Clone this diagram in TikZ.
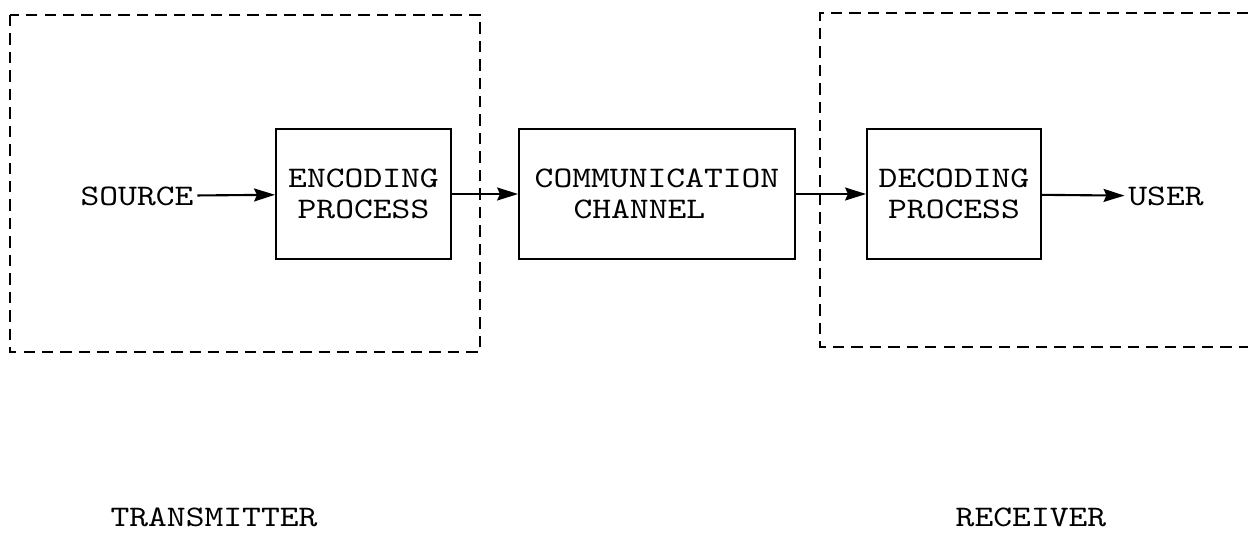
\documentclass[tikz,border=0pt]{standalone}
\usepackage{fontspec}
\usepackage{tikz}
\usetikzlibrary{arrows.meta}

\newfontfamily\typewriter{lmmono10-regular.otf}[FakeStretch=1.2]
\newcommand{\typefont}{\typewriter\fontsize{17}{18}\selectfont}

\tikzset{
  blockbox/.style={draw, line width=1.1pt, minimum height=2.6cm, inner sep=0pt, font=\typefont},
  plainlabel/.style={font=\typefont, inner sep=2pt},
  flowarrow/.style={line width=1.2pt, -{Stealth[length=0.42cm, width=0.26cm, inset=0.06cm]}},
  groupline/.style={line width=1.3pt, dash pattern=on 6.5pt off 4pt}
}

\begin{document}
\begin{tikzpicture}[x=0.02cm, y=-0.02cm]
            \useasboundingbox (0,0) rectangle (1248,548);
            % transmitter and receiver
            \draw[groupline] (10,15) rectangle (480,352);
            \draw[groupline] (1248,13) -- (820,13) -- (820,347) -- (1248,347);
            % blocks
            \node[plainlabel] (src) at (137,196) {SOURCE};
            \node[blockbox, align=center, minimum width=3.5cm] (enc) at (363.5,194) {ENCODING\\PROCESS};
            \node[blockbox, align=left, minimum width=5.52cm] (chan) at (657,194) {COMMUNICATION\\\hspace*{1.3em}CHANNEL};
            \node[blockbox, align=center, minimum width=3.48cm] (dec) at (954,194) {DECODING\\PROCESS};
            \node[plainlabel] (user) at (1166,196) {USER};
            \draw[flowarrow] (src) -- (enc);
            \draw[flowarrow] (enc) -- (chan);
            \draw[flowarrow] (chan) -- (dec);
            \draw[flowarrow] (dec) -- (user);
            % group names
            \node[plainlabel] (tx) at (214,517) {TRANSMITTER};
            \node[plainlabel] (rx) at (1031,517) {RECEIVER};
        \end{tikzpicture}
\end{document}
